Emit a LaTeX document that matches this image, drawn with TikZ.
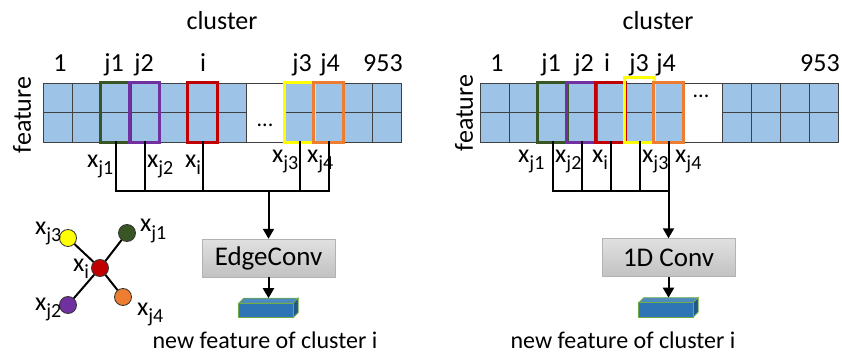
\documentclass[tikz,border=0pt]{standalone}
\usepackage{fontspec}
\setmainfont{Carlito}
\usetikzlibrary{arrows.meta,positioning,calc}
\definecolor{CellBlue}{HTML}{9DC3E6}
\definecolor{JGreen}{HTML}{375623}
\definecolor{JPurple}{HTML}{7030A0}
\definecolor{IRed}{HTML}{C00000}
\definecolor{JYellow}{HTML}{FFFF00}
\definecolor{JOrange}{HTML}{ED7D31}
\definecolor{BarBlue}{HTML}{2E75B6}
\definecolor{BarEdge}{HTML}{70AD47}
\newcommand{\xsub}[1]{x\raisebox{-7pt}{\fontsize{20}{20}\selectfont #1}}

\begin{document}
\begin{tikzpicture}[x=1pt,y=-1pt,
    cell/.style={rectangle,draw=black!75,line width=0.7pt,fill=CellBlue,minimum width=29pt,minimum height=29.5pt,inner sep=0pt},
    gapbox/.style={rectangle,draw=black!75,line width=0.7pt,fill=white,minimum width=39pt,minimum height=59pt,inner sep=0pt},
    frame/.style={line width=3pt},
    txt/.style={font=\fontsize{26}{30}\selectfont,inner sep=0pt},
    lbl/.style={txt,anchor=base},
    xlbl/.style={txt,anchor=base west},
    wire/.style={line width=2pt,line cap=rect},
    arrow/.style={-{Triangle[length=10pt,width=11pt]},line width=2pt},
    convbox/.style={rectangle,draw=black!30,top color=black!12,bottom color=black!24,minimum width=133pt,minimum height=38pt,font=\fontsize{27}{30}\selectfont},
    bar/.style={rectangle,minimum width=59pt,minimum height=19pt,inner sep=0pt},
    dot/.style={circle,draw=black!80,line width=0.8pt,minimum size=17pt,inner sep=0pt}
]
\useasboundingbox (0,0) rectangle (842,355);

% left panel: feature grid
\foreach \k in {1,...,7} \foreach \r in {1,2}
    \node[cell] (L\k-\r) at ({43+(\k-0.5)*29},{83+(\r-0.5)*29.5}) {};
\foreach \k in {8,...,11} \foreach \r in {1,2}
    \node[cell] (L\k-\r) at ({285+(\k-7.5)*29},{83+(\r-0.5)*29.5}) {};
\node[gapbox] (Lgap) at (265.5,112.5) {};
\node[txt,font=\fontsize{22}{24}\selectfont] (Ldots) at (265,125) {...};
\draw[frame,JGreen] (L3-1.north west) rectangle (L3-2.south east);
\draw[frame,JPurple] (L4-1.north west) rectangle (L4-2.south east);
\draw[frame,IRed] (L6-1.north west) rectangle (L6-2.south east);
\draw[frame,JYellow] (L8-1.north west) rectangle (L8-2.south east);
\draw[frame,JOrange] (L9-1.north west) rectangle (L9-2.south east);

\node[lbl] (Lclus) at (222,30) {cluster};
\node[txt,rotate=90] (Lfeat) at (22,115) {feature};
\foreach \t/\x in {1/60,j1/114,j2/144,i/203,j3/302,j4/330,953/383}
    \node[lbl] (Lidx-\t) at (\x,72) {\t};
\foreach \t/\x/\y in {j1/87/168,j2/147/168,i/185/168,j3/272/163,j4/307/163}
    \node[xlbl] (Lx-\t) at (\x,\y) {\xsub{\t}};

% left panel: gather and EdgeConv
\coordinate (Lbus) at (0,191);
\foreach \k in {3,4,6,8,9}
    \draw[wire] (L\k-2.south) -- (L\k-2.south |- Lbus);
\draw[wire] (L3-2.south |- Lbus) -- (L9-2.south |- Lbus);
\node[convbox] (Lconv) at (268.5,258) {EdgeConv};
\draw[arrow] (Lconv.north |- Lbus) -- (Lconv.north);
\node[bar,below=21pt of Lconv] (Lbar) {};
\draw[arrow] (Lconv) -- (Lbar);
\node[txt,font=\fontsize{24}{28}\selectfont,anchor=base] (Lcap) at (265,348) {new feature of cluster i};

% left panel: neighbour graph
\node[dot,fill=IRed] (gi) at (100,268) {};
\node[dot,fill=JYellow] (gj3) at (68,238) {};
\node[dot,fill=JGreen] (gj1) at (127,233) {};
\node[dot,fill=JPurple] (gj2) at (68,305) {};
\node[dot,fill=JOrange] (gj4) at (123,297) {};
\foreach \n in {gj1,gj2,gj3,gj4}
    \draw[wire,line cap=butt] (gi) -- (\n);
\node[xlbl] (gx-j3) at (35,234) {\xsub{j3}};
\node[xlbl] (gx-j1) at (140,232) {\xsub{j1}};
\node[xlbl] (gx-i) at (73,271) {\xsub{i}};
\node[xlbl] (gx-j2) at (35,310) {\xsub{j2}};
\node[xlbl] (gx-j4) at (137,315) {\xsub{j4}};

% right panel: feature grid
\foreach \k in {1,...,7} \foreach \r in {1,2}
    \node[cell] (R\k-\r) at ({480+(\k-0.5)*29},{83+(\r-0.5)*29.5}) {};
\foreach \k in {8,...,11} \foreach \r in {1,2}
    \node[cell] (R\k-\r) at ({722+(\k-7.5)*29},{83+(\r-0.5)*29.5}) {};
\node[gapbox] (Rgap) at (702.5,112.5) {};
\node[txt,font=\fontsize{22}{24}\selectfont] (Rdots) at (701,96) {...};
\draw[frame,JGreen] (R3-1.north west) rectangle (R3-2.south east);
\draw[frame,JPurple] (R4-1.north west) rectangle (R4-2.south east);
\draw[frame,IRed] (R5-1.north west) rectangle (R5-2.south east);
\draw[frame,JYellow] ($(R6-1.north west)+(0,-5)$) rectangle (R6-2.south east);
\draw[frame,JOrange] (R7-1.north west) rectangle (R7-2.south east);

\node[lbl] (Rclus) at (658,30) {cluster};
\node[txt,rotate=90] (Rfeat) at (464,113) {feature};
\foreach \t/\x in {1/497,j1/551,j2/584,i/607,j3/639,j4/666,953/820}
    \node[lbl] (Ridx-\t) at (\x,72) {\t};
\foreach \t/\x in {j1/518,j2/555,i/592,j3/642,j4/675}
    \node[xlbl] (Rx-\t) at (\x,163) {\xsub{\t}};

% right panel: gather and 1D Conv
\coordinate (Rbus) at (0,191);
\coordinate (Rmid) at (0,257.5);
\foreach \k in {3,...,7}
    \draw[wire] (R\k-2.south) -- (R\k-2.south |- Rbus);
\draw[wire] (R3-2.south |- Rbus) -- (R7-2.south |- Rbus);
\node[convbox] (Rconv) at (R7-2.south |- Rmid) {1D Conv};
\draw[arrow] (R7-2.south |- Rbus) -- (Rconv.north);
\node[bar,below=21pt of Rconv] (Rbar) {};
\draw[arrow] (Rconv) -- (Rbar);
\node[txt,font=\fontsize{24}{28}\selectfont,anchor=base] (Rcap) at (623,348) {new feature of cluster i};

% output feature bars
\foreach \b in {Lbar,Rbar} {
    \filldraw[fill=BarBlue!85!white,draw=BarEdge,line width=0.8pt] ($(\b.north west)+(0,5)$) -- ($(\b.north west)+(5,0)$) -- (\b.north east) -- ($(\b.north east)+(-5,5)$) -- cycle;
    \filldraw[fill=BarBlue!75!black,draw=BarEdge,line width=0.8pt] ($(\b.north east)+(-5,5)$) -- (\b.north east) -- ($(\b.south east)+(0,-5)$) -- ($(\b.south east)+(-5,0)$) -- cycle;
    \filldraw[fill=BarBlue,draw=BarEdge,line width=0.8pt] ($(\b.north west)+(0,5)$) rectangle ($(\b.south east)+(-5,0)$);
}
\end{tikzpicture}
\end{document}
